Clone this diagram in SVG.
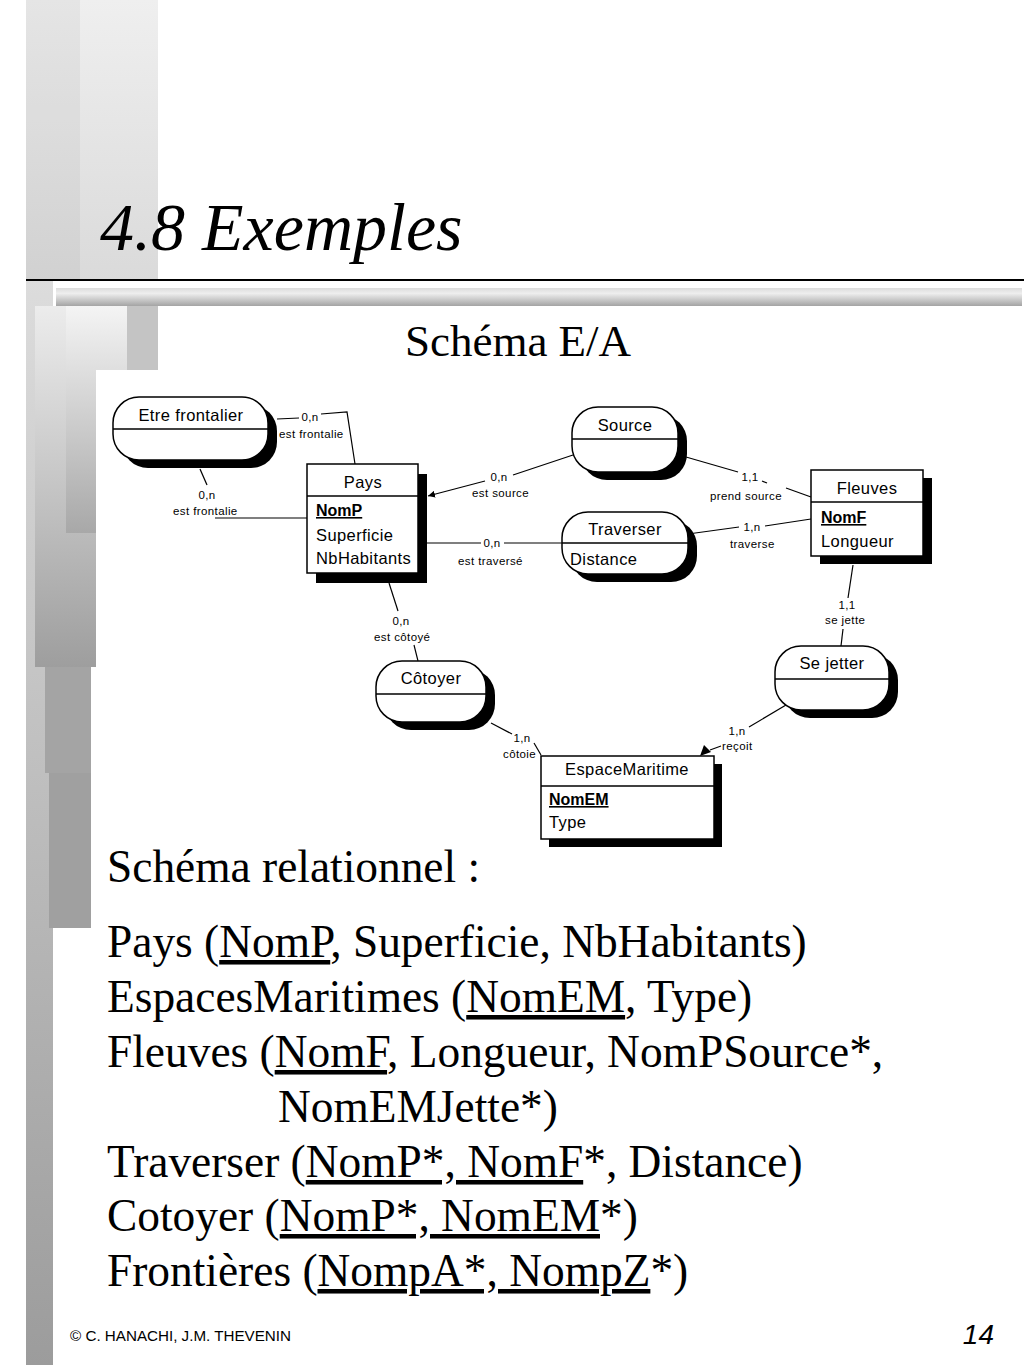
<svg xmlns="http://www.w3.org/2000/svg" width="1024" height="1365" viewBox="0 0 1024 1365">
<defs>
<linearGradient id="gTop" x1="0" y1="0" x2="0" y2="1"><stop offset="0" stop-color="#efefef"/><stop offset="1" stop-color="#dadada"/></linearGradient>
<linearGradient id="gH" x1="0" y1="0" x2="0" y2="1"><stop offset="0" stop-color="#dcdcdc"/><stop offset="0.3" stop-color="#eeeeee"/><stop offset="1" stop-color="#a4a4a4"/></linearGradient>
<linearGradient id="gL" x1="0" y1="0" x2="0" y2="1"><stop offset="0" stop-color="#dcdcdc"/><stop offset="1" stop-color="#9c9c9c"/></linearGradient>
<linearGradient id="gA" x1="0" y1="0" x2="0" y2="1"><stop offset="0" stop-color="#ececec"/><stop offset="1" stop-color="#9e9e9e"/></linearGradient>
<linearGradient id="gB" x1="0" y1="0" x2="0" y2="1"><stop offset="0" stop-color="#f4f4f4"/><stop offset="1" stop-color="#a8a8a8"/></linearGradient>
<marker id="arr" viewBox="0 0 10 10" refX="10" refY="5" markerWidth="7" markerHeight="7" markerUnits="userSpaceOnUse" orient="auto"><path d="M0,0 L10,5 L0,10 z" fill="#000"/></marker>
</defs>
<style>
.t{font-family:"Liberation Serif","Times New Roman",serif;fill:#000}
.n{font-family:"Liberation Sans",Arial,sans-serif;font-size:16.5px;letter-spacing:0.4px;fill:#000}
.k{font-family:"Liberation Sans",Arial,sans-serif;font-size:16px;font-weight:bold;text-decoration:underline;fill:#000}
.l{font-family:"Liberation Sans",Arial,sans-serif;font-size:11.5px;letter-spacing:0.4px;fill:#000}
.box{fill:#fff;stroke:#000;stroke-width:1.5}
.sh{fill:#000}
.dv{stroke:#000;stroke-width:1.3}
.c{fill:none;stroke:#000;stroke-width:1.2}
.u{text-decoration:underline}
</style>
<rect width="1024" height="1365" fill="#fff"/>
<g id="background">
<rect x="26" y="0" width="132" height="280" fill="url(#gTop)"/>
<rect x="26" y="0" width="54" height="280" fill="#000" opacity="0.04"/>
<rect x="26" y="280" width="27" height="1085" fill="url(#gL)"/>
<rect x="35" y="306" width="61" height="361" fill="url(#gA)"/>
<rect x="66" y="306" width="61" height="227" fill="url(#gB)"/>
<rect x="127" y="306" width="31" height="64" fill="#c4c4c4"/>
<rect x="45" y="667" width="46" height="106" fill="#a4a4a4"/>
<rect x="49" y="773" width="42" height="155" fill="#a0a0a0"/>
<rect x="56" y="288" width="966" height="18" fill="url(#gH)"/>
<line x1="26" y1="280" x2="1024" y2="280" stroke="#000" stroke-width="2"/>
<rect x="96" y="370" width="928" height="995" fill="#fff"/>
</g>
<text class="t" x="100" y="250" font-size="68" font-style="italic">4.8 Exemples</text>
<text class="t" x="518" y="356" font-size="45" text-anchor="middle">Schéma E/A</text>

<g id="connectors">
<path class="c" d="M277,419 L299,418"/>
<path class="c" d="M321,414 L347,412 L355,464"/>
<text class="l" x="310" y="421" text-anchor="middle">0,n</text>
<text class="l" x="279" y="438">est frontalie</text>

<path class="c" d="M200,469 L207,485"/>
<text class="l" x="207" y="499" text-anchor="middle">0,n</text>
<text class="l" x="173" y="515">est frontalie</text>
<path class="c" d="M215,518 L307,518"/>

<path class="c" d="M573,455 L513,475"/>
<path class="c" d="M485,481 L428,496" marker-end="url(#arr)"/>
<text class="l" x="499" y="481" text-anchor="middle">0,n</text>
<text class="l" x="472" y="497">est source</text>

<path class="c" d="M686,457 L738,472"/>
<path class="c" d="M762,481 L767,483"/>
<path class="c" d="M786,488 L811,497"/>
<text class="l" x="750" y="481" text-anchor="middle">1,1</text>
<text class="l" x="710" y="500">prend source</text>

<path class="c" d="M427,543 L481,543"/>
<path class="c" d="M504,543 L562,543"/>
<text class="l" x="492" y="547" text-anchor="middle">0,n</text>
<text class="l" x="458" y="565">est traversé</text>

<path class="c" d="M688,534 L739,527"/>
<path class="c" d="M765,526 L811,519"/>
<text class="l" x="752" y="531" text-anchor="middle">1,n</text>
<text class="l" x="730" y="548">traverse</text>

<path class="c" d="M389,583 L398,611"/>
<text class="l" x="401" y="625" text-anchor="middle">0,n</text>
<text class="l" x="374" y="641">est côtoyé</text>
<path class="c" d="M414,645 L418,661"/>

<path class="c" d="M491,723 L512,734"/>
<path class="c" d="M534,743 L541,755"/>
<text class="l" x="522" y="742" text-anchor="middle">1,n</text>
<text class="l" x="503" y="758">côtoie</text>

<path class="c" d="M853,565 L848,598"/>
<text class="l" x="847" y="609" text-anchor="middle">1,1</text>
<text class="l" x="825" y="624">se jette</text>
<path class="c" d="M843,629 L841,646"/>

<path class="c" d="M786,705 L749,727"/>
<text class="l" x="737" y="735" text-anchor="middle">1,n</text>
<text class="l" x="722" y="750">reçoit</text>
<path class="c" d="M721,746 L710,750"/>
<path d="M700,756 L704,745 L711,752 z" fill="#000"/>
</g>

<g id="etre-frontalier">
<rect class="sh" x="122" y="405" width="155" height="63" rx="26"/>
<rect class="box" x="113" y="397" width="155" height="63" rx="26"/>
<line class="dv" x1="113" y1="429" x2="268" y2="429"/>
<text class="n" x="191" y="421" text-anchor="middle">Etre frontalier</text>
</g>

<g id="source">
<rect class="sh" x="581" y="415" width="106" height="65" rx="26"/>
<rect class="box" x="572" y="407" width="106" height="65" rx="26"/>
<line class="dv" x1="572" y1="439" x2="678" y2="439"/>
<text class="n" x="625" y="431" text-anchor="middle">Source</text>
</g>

<g id="traverser">
<rect class="sh" x="571" y="520" width="126" height="62" rx="26"/>
<rect class="box" x="562" y="512" width="126" height="62" rx="26"/>
<line class="dv" x1="562" y1="543" x2="688" y2="543"/>
<text class="n" x="625" y="535" text-anchor="middle">Traverser</text>
<text class="n" x="570" y="565">Distance</text>
</g>

<g id="cotoyer">
<rect class="sh" x="385" y="669" width="110" height="61" rx="26"/>
<rect class="box" x="376" y="661" width="110" height="61" rx="26"/>
<line class="dv" x1="376" y1="694" x2="486" y2="694"/>
<text class="n" x="431" y="684" text-anchor="middle">Côtoyer</text>
</g>

<g id="se-jetter">
<rect class="sh" x="784" y="654" width="114" height="64" rx="26"/>
<rect class="box" x="775" y="646" width="114" height="64" rx="26"/>
<line class="dv" x1="775" y1="679" x2="889" y2="679"/>
<text class="n" x="832" y="669" text-anchor="middle">Se jetter</text>
</g>

<g id="pays">
<rect class="sh" x="316" y="474" width="111" height="109"/>
<rect class="box" x="307" y="464" width="111" height="109"/>
<line class="dv" x1="307" y1="496" x2="418" y2="496"/>
<text class="n" x="363" y="488" text-anchor="middle">Pays</text>
<text class="k" x="316" y="516">NomP</text>
<text class="n" x="316" y="541">Superficie</text>
<text class="n" x="316" y="564">NbHabitants</text>
</g>

<g id="fleuves">
<rect class="sh" x="820" y="478" width="112" height="86"/>
<rect class="box" x="811" y="470" width="112" height="86"/>
<line class="dv" x1="811" y1="502" x2="923" y2="502"/>
<text class="n" x="867" y="494" text-anchor="middle">Fleuves</text>
<text class="k" x="821" y="523">NomF</text>
<text class="n" x="821" y="547">Longueur</text>
</g>

<g id="espace-maritime">
<rect class="sh" x="549" y="764" width="173" height="83"/>
<rect class="box" x="541" y="756" width="173" height="83"/>
<line class="dv" x1="541" y1="786" x2="714" y2="786"/>
<text class="n" x="627" y="775" text-anchor="middle">EspaceMaritime</text>
<text class="k" x="549" y="805">NomEM</text>
<text class="n" x="549" y="828">Type</text>
</g>

<g id="relational" class="t" font-size="45.4">
<text x="107" y="882">Schéma relationnel :</text>
<text x="107" y="957">Pays (<tspan class="u">NomP</tspan>, Superficie, NbHabitants)</text>
<text x="107" y="1012">EspacesMaritimes (<tspan class="u">NomEM</tspan>, Type)</text>
<text x="107" y="1067">Fleuves (<tspan class="u">NomF</tspan>, Longueur, NomPSource*,</text>
<text x="278" y="1122">NomEMJette*)</text>
<text x="107" y="1177">Traverser (<tspan class="u">NomP*, NomF</tspan>*, Distance)</text>
<text x="107" y="1231">Cotoyer (<tspan class="u">NomP*, NomEM</tspan>*)</text>
<text x="107" y="1286">Frontières (<tspan class="u">NompA*, NompZ</tspan>*)</text>
</g>

<text x="70" y="1341" font-family="Liberation Sans, Arial, sans-serif" font-size="15.2">© C. HANACHI, J.M. THEVENIN</text>
<text x="994" y="1344" font-family="Liberation Sans, Arial, sans-serif" font-size="28" font-style="italic" text-anchor="end">14</text>
</svg>
